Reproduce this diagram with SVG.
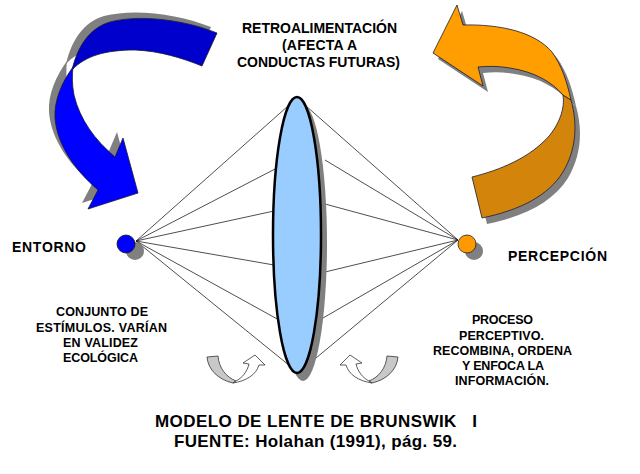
<svg xmlns="http://www.w3.org/2000/svg" width="640" height="474" viewBox="0 0 640 474">
<style>
text{font-family:"Liberation Sans",Arial,sans-serif;font-weight:bold;fill:#000;text-anchor:middle}
.big{font-size:14px}
.small{font-size:12.5px}
.title{font-size:17px;text-anchor:start}
.ray{stroke:#222;stroke-width:0.8;fill:none}
.shadow{fill:#808080}
.out{stroke:#1a1a33;stroke-width:0.8;stroke-linejoin:round}
.sm{stroke:#333;stroke-width:0.8;stroke-linejoin:round}
</style>
<rect width="640" height="474" fill="#fff"/>

<g id="feedback-arrow-blue">
  <g class="shadow" transform="translate(-6,-6)">
    <path d="M217,33 C185,20 140,14 110,22 C90,28 78,45 72,70 C85,56 105,50 135,50 C160,51 182,58 202,66 Z"/>
    <path d="M73,67 C62,82 54,100 55,118 C57,145 75,170 98,190 L88,209 L138,193 L123,138 L115,157 C95,140 80,120 74,95 C72,85 72,75 73,67 Z"/>
  </g>
  <path class="out" fill="#0000CC" d="M217,33 C185,20 140,14 110,22 C90,28 78,45 72,70 C85,56 105,50 135,50 C160,51 182,58 202,66 Z"/>
  <path class="out" fill="#0000FF" d="M73,67 C62,82 54,100 55,118 C57,145 75,170 98,190 L88,209 L138,193 L123,138 L115,157 C95,140 80,120 74,95 C72,85 72,75 73,67 Z"/>
</g>

<g id="feedback-arrow-orange">
  <g class="shadow" transform="translate(5,6)">
    <path d="M433,53 L457,5 L463,25 C500,24 535,32 552,52 C562,66 567,82 571,100 L563,95 C552,82 535,72 510,68 C498,66 488,66 478,67 L483,86 Z"/>
    <path d="M563,95 L571,100 C578,125 576,150 563,172 C548,196 520,210 482,218 L472,177 C500,170 530,158 550,135 C560,122 565,108 563,95 Z"/>
  </g>
  <path class="out" fill="#D2850A" d="M563,95 L571,100 C578,125 576,150 563,172 C548,196 520,210 482,218 L472,177 C500,170 530,158 550,135 C560,122 565,108 563,95 Z"/>
  <path class="out" fill="#FF9E00" d="M433,53 L457,5 L463,25 C500,24 535,32 552,52 C562,66 567,82 571,100 L563,95 C552,82 535,72 510,68 C498,66 488,66 478,67 L483,86 Z"/>
</g>

<g id="connectors">
  <line class="ray" x1="136" y1="241" x2="297" y2="98"/>
  <line class="ray" x1="136" y1="241" x2="277" y2="168"/>
  <line class="ray" x1="136" y1="241" x2="274" y2="211"/>
  <line class="ray" x1="136" y1="241" x2="274" y2="265"/>
  <line class="ray" x1="136" y1="241" x2="279" y2="320"/>
  <line class="ray" x1="136" y1="241" x2="290" y2="366"/>
  <line class="ray" x1="458" y1="240" x2="297" y2="98"/>
  <line class="ray" x1="458" y1="240" x2="325" y2="160"/>
  <line class="ray" x1="458" y1="240" x2="325" y2="204"/>
  <line class="ray" x1="458" y1="240" x2="325" y2="272"/>
  <line class="ray" x1="458" y1="240" x2="323" y2="318"/>
  <line class="ray" x1="458" y1="240" x2="316" y2="358"/>
</g>

<g id="lens">
  <ellipse class="shadow" cx="303" cy="243" rx="24" ry="138"/>
  <ellipse cx="297" cy="235" rx="24" ry="138" fill="#99CCFF" stroke="#000" stroke-width="2.5"/>
</g>

<g id="entorno">
  <circle class="shadow" cx="135" cy="251" r="9"/>
  <circle cx="126" cy="244" r="9" fill="#0000FF" stroke="#111" stroke-width="0.8"/>
  <text class="big" x="49" y="252" textLength="74">ENTORNO</text>
  <text class="small" x="102" y="316" textLength="92">CONJUNTO DE</text>
  <text class="small" x="101.5" y="332" textLength="131">ESTÍMULOS. VARÍAN</text>
  <text class="small" x="100.5" y="347" textLength="75">EN VALIDEZ</text>
  <text class="small" x="100.5" y="362" textLength="75">ECOLÓGICA</text>
</g>

<g id="percepcion">
  <circle class="shadow" cx="474" cy="251" r="9"/>
  <circle cx="467" cy="244" r="9" fill="#FF9900" stroke="#222" stroke-width="0.8"/>
  <text class="big" x="557.5" y="261" textLength="99">PERCEPCIÓN</text>
  <text class="small" x="502.5" y="324" textLength="61">PROCESO</text>
  <text class="small" x="501.5" y="340" textLength="85">PERCEPTIVO.</text>
  <text class="small" x="502.5" y="355" textLength="139">RECOMBINA, ORDENA</text>
  <text class="small" x="503" y="370" textLength="82">Y ENFOCA LA</text>
  <text class="small" x="502" y="385" textLength="94">INFORMACIÓN.</text>
</g>

<g id="retroalimentacion">
  <text class="big" x="319.5" y="33" textLength="155">RETROALIMENTACIÓN</text>
  <text class="big" x="319.5" y="50" textLength="75">(AFECTA A</text>
  <text class="big" x="318.5" y="67" textLength="163">CONDUCTAS FUTURAS)</text>
</g>

<g id="small-arrow-left">
  <path class="sm" fill="#C8C8C8" d="M207,357 L218,356 C219,368 226,377 236,381 L233,383 C219,380 208,370 207,357 Z"/>
  <path class="sm" fill="#fff" d="M233,383 C246,381 256,375 259,365 L265,365 L255,355 L243,363 L249,364 C247,372 242,378 236,381 Z"/>
</g>
<g id="small-arrow-right" transform="translate(605,0) scale(-1,1)">
  <path class="sm" fill="#C8C8C8" d="M207,357 L218,356 C219,368 226,377 236,381 L233,383 C219,380 208,370 207,357 Z"/>
  <path class="sm" fill="#fff" d="M233,383 C246,381 256,375 259,365 L265,365 L255,355 L243,363 L249,364 C247,372 242,378 236,381 Z"/>
</g>

<g id="caption">
  <text class="title" x="155" y="427" textLength="322" xml:space="preserve">MODELO DE LENTE DE BRUNSWIK   I</text>
  <text class="title" x="174" y="447" textLength="283">FUENTE: Holahan (1991), pág. 59.</text>
</g>
</svg>
